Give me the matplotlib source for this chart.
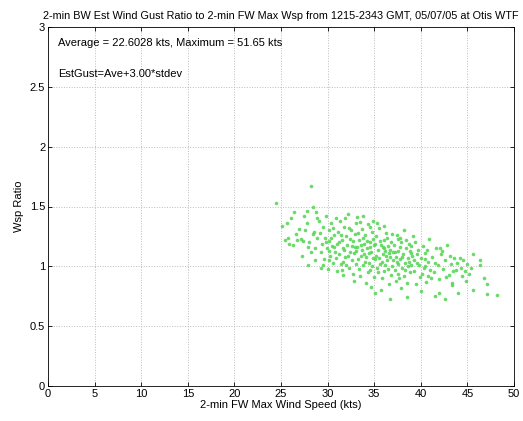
import matplotlib
matplotlib.use("Agg")
import matplotlib.pyplot as plt

plt.rcParams['font.family'] = ['Liberation Sans', 'DejaVu Sans']

title = "2-min BW Est Wind Gust Ratio to 2-min FW Max Wsp from 1215-2343 GMT, 05/07/05 at Otis WTF"
xlabel = "2-min FW Max Wind Speed (kts)"
ylabel = "Wsp Ratio"
note1 = "Average = 22.6028 kts, Maximum = 51.65 kts"
note2 = "EstGust=Ave+3.00*stdev"
xticks = [0, 5, 10, 15, 20, 25, 30, 35, 40, 45, 50]
yticks = [0, 0.5, 1, 1.5, 2, 2.5, 3]

pts = [
    (24.5,1.53),(25.1,1.34),(25.4,1.22),(25.8,1.24),(26.1,1.40),(26.4,1.45),(26.6,1.27),(26.9,1.31),
    (25.9,1.19),(26.3,1.18),(26.7,1.22),(25.6,1.36),
    (27.1,1.23),(27.4,1.21),(27.8,1.36),(27.8,1.46),(27.9,1.16),(27.9,1.01),(28.2,1.67),(28.4,1.50),
    (28.4,1.27),(28.5,1.29),(28.2,1.12),(28.6,1.15),(28.8,1.45),(28.9,1.40),(27.3,1.09),(27.6,1.30),
    (28.0,1.20),(28.7,1.05),(28.9,1.24),(27.5,1.42),
    (29.2,1.28),(29.1,1.38),(29.3,1.12),(29.4,1.19),(29.5,1.33),(29.6,1.06),(29.7,1.24),(29.8,1.42),
    (29.9,1.15),(30.0,0.98),(30.1,1.30),(30.2,1.21),(30.3,1.09),(30.4,1.36),(30.5,1.17),(30.6,1.03),
    (30.7,1.26),(30.8,1.12),(30.9,1.40),(31.0,1.19),(29.5,1.01),(30.2,1.13),(30.6,1.32),(30.9,1.07),
    (29.8,1.20),(30.4,1.24),(31.0,0.96),(29.3,0.99),(30.1,1.05),(30.7,1.16),
    (31.1,1.29),(31.2,1.10),(31.3,1.38),(31.4,1.02),(31.5,1.22),(31.6,1.15),(31.7,0.93),(31.8,1.33),
    (31.9,1.08),(32.0,1.25),(32.1,1.18),(32.2,1.44),(32.3,0.99),(32.4,1.12),(32.5,1.30),(32.6,1.05),
    (32.7,1.21),(32.8,0.88),(32.9,1.16),(33.0,1.36),(31.2,1.20),(31.4,1.26),(31.6,1.04),(31.8,1.14),
    (32.0,1.01),(32.2,1.09),(32.4,1.23),(32.6,1.17),(32.8,1.11),(33.0,1.02),(31.5,0.97),(31.9,1.40),
    (32.3,1.32),(32.7,0.94),(32.9,1.27),
    (33.1,1.13),(33.2,1.41),(33.3,1.06),(33.4,1.22),(33.5,0.92),(33.6,1.18),(33.7,1.31),(33.8,1.01),
    (33.9,1.10),(34.0,1.26),(34.1,0.86),(34.2,1.15),(34.3,1.35),(34.4,1.03),(34.5,1.20),(34.6,0.97),
    (34.7,1.12),(34.8,1.29),(34.9,1.07),(35.0,1.18),(33.2,1.16),(33.4,0.98),(33.6,1.09),(33.8,1.24),
    (34.0,1.04),(34.2,1.21),(34.4,1.11),(34.6,1.33),(34.8,1.00),(35.0,0.91),(33.3,1.28),(33.7,1.14),
    (34.1,1.08),(34.5,1.16),(34.9,1.23),(33.5,1.37),(34.3,0.95),(34.7,0.83),(33.9,1.19),(34.9,1.38),
    (33.8,1.42),
    (35.1,1.06),(35.2,1.25),(35.3,0.99),(35.4,1.14),(35.5,1.32),(35.6,1.02),(35.7,1.18),(35.8,0.90),
    (35.9,1.10),(36.0,1.22),(36.1,0.96),(36.2,1.13),(36.3,1.28),(36.4,1.05),(36.5,1.17),(36.6,0.85),
    (36.7,1.08),(36.8,1.20),(36.9,1.00),(37.0,1.12),(35.2,1.09),(35.4,0.95),(35.6,1.21),(35.8,1.04),
    (36.0,1.15),(36.2,1.01),(36.4,1.24),(36.6,1.11),(36.8,0.93),(37.0,1.05),(35.3,1.36),(35.7,0.80),
    (36.1,1.34),(36.5,0.98),(36.9,1.27),(35.5,1.07),(35.9,1.16),(36.3,1.09),(36.7,1.14),(35.1,1.19),
    (35.1,0.78),(36.7,0.73),
    (37.1,1.18),(37.2,0.97),(37.3,1.08),(37.4,1.26),(37.5,1.02),(37.6,1.13),(37.7,0.90),(37.8,1.06),
    (37.9,1.20),(38.0,0.99),(38.1,1.10),(38.2,1.30),(38.3,1.03),(38.4,1.15),(38.5,0.86),(38.6,1.07),
    (38.7,1.19),(38.8,0.95),(38.9,1.11),(39.0,1.01),(37.2,1.12),(37.4,1.04),(37.6,0.94),(37.8,1.16),
    (38.0,1.08),(38.2,0.92),(38.4,1.22),(38.6,1.00),(38.8,1.13),(39.0,1.17),(37.5,1.23),(37.9,0.82),
    (38.3,0.97),(38.7,1.04),(37.3,0.88),(37.8,1.24),(38.5,0.74),
    (39.1,1.09),(39.3,0.96),(39.4,1.20),(39.6,1.03),(39.7,1.14),(39.9,0.91),(40.0,1.07),(40.2,1.17),
    (40.3,0.99),(40.5,1.11),(40.6,0.87),(40.8,1.04),(40.9,1.23),(41.0,0.97),(39.2,1.25),(39.5,0.85),
    (39.8,1.01),(40.1,0.94),(40.4,1.06),(40.7,1.14),(39.6,1.10),(40.0,0.79),(40.8,0.92),(39.3,1.05),
    (40.5,1.00),
    (41.2,1.08),(41.4,0.95),(41.6,1.15),(41.8,1.01),(42.0,0.89),(42.2,1.10),(42.4,0.98),(42.6,1.05),
    (42.8,1.18),(43.0,0.93),(43.2,1.02),(43.4,0.86),(43.6,1.07),(43.8,0.97),(41.5,1.03),(41.9,0.78),
    (42.3,1.13),(42.7,0.91),(43.1,1.09),(43.5,0.96),(43.9,1.03),(41.1,0.90),(42.1,1.15),(41.5,0.75),
    (42.6,0.73),(43.3,0.84),
    (44.0,0.78),(44.3,0.99),(44.4,0.92),(44.5,1.05),(44.7,0.96),(45.0,1.02),(45.2,0.94),(45.6,1.10),
    (45.6,0.80),(46.3,1.05),(46.3,1.01),(46.8,0.90),(47.1,0.85),(47.1,0.77),(48.2,0.76),(44.8,0.88),
    (45.4,0.99),(44.2,1.07),
]
wind_speed = [p[0] for p in pts]
wsp_ratio = [p[1] for p in pts]

fig = plt.figure(figsize=(5.23, 4.21), dpi=100)
ax = fig.add_axes([48/523, 35/421, 466/523, 359/421])
ax.plot(wind_speed, wsp_ratio, linestyle='none', marker='o', markersize=2.6,
        color='#5ad85a', markeredgewidth=0, alpha=0.9, zorder=3)
ax.set_xlim(0, 50)
ax.set_ylim(0, 3)
ax.set_xticks(xticks)
ax.set_yticks(yticks)
ax.set_xticklabels([str(t) for t in xticks])
ax.set_yticklabels(['0', '0.5', '1', '1.5', '2', '2.5', '3'])
ax.tick_params(direction='in', top=True, right=True, labelsize=8, length=3, width=0.6, pad=2)
ax.grid(True, linestyle=':', color='#bbbbbb', linewidth=0.7)
for s in ax.spines.values():
    s.set_linewidth(0.6)
ax.set_title(title, fontsize=7.8, pad=6)
ax.set_xlabel(xlabel, fontsize=8, labelpad=1)
ax.set_ylabel(ylabel, fontsize=8, labelpad=4)
ax.text(1.1, 2.87, note1, fontsize=8, va='center', ha='left')
ax.text(1.1, 2.61, note2, fontsize=8, va='center', ha='left')
fig.savefig('out.png', dpi=100)
